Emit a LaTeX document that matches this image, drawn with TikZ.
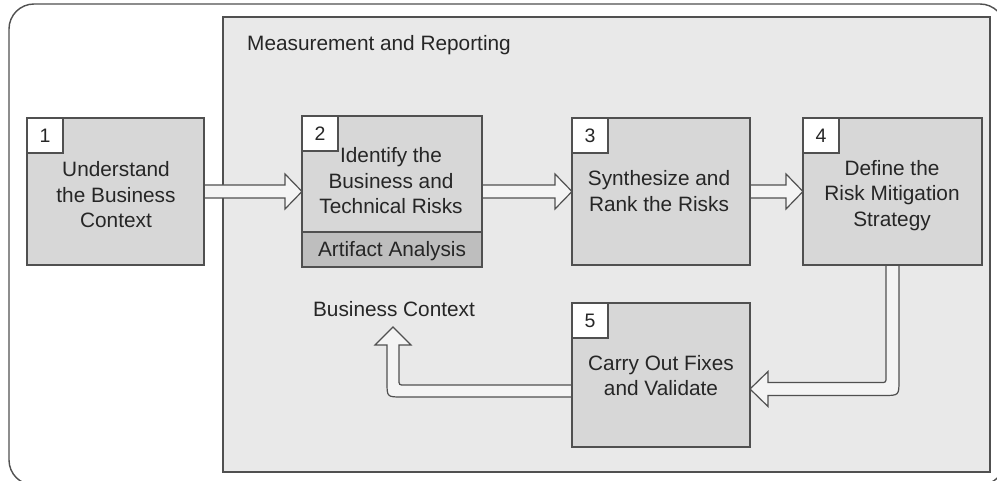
\documentclass[tikz,border=0pt]{standalone}
\usepackage{fontspec}
\setmainfont{Liberation Sans}
\usetikzlibrary{calc}
\definecolor{linec}{HTML}{505050}
\definecolor{panelc}{HTML}{E9E9E9}
\definecolor{boxc}{HTML}{D7D7D7}
\definecolor{barc}{HTML}{BEBEBE}
\definecolor{arrc}{HTML}{F4F4F4}
\definecolor{textc}{HTML}{262626}
\begin{document}
\begin{tikzpicture}[x=1pt,y=-1pt,
  stagebox/.style={draw=linec, fill=boxc, line width=1.3pt, inner sep=0pt, outer sep=0pt},
  numbox/.style={draw=linec, fill=white, line width=1.3pt, inner sep=0pt, outer sep=0pt,
    minimum width=36pt, minimum height=35pt, anchor=north west, text height=14pt, text depth=0pt,
    font=\fontsize{19.5}{24}\selectfont, text=textc},
  lbl/.style={align=center, inner sep=0pt, font=\fontsize{20.8}{25.5}\selectfont, text=textc},
  blockarr/.style={draw=linec, fill=arrc, line width=1.2pt, line join=miter}]
\useasboundingbox (0,0) rectangle (997,481);
\clip (0,0) rectangle (997,481);
% outer frame
\draw[draw=linec, line width=1.4pt, fill=white, rounded corners=25pt] (9,4) rectangle (1005,485);
% panel
\node[draw=linec, fill=panelc, line width=1.5pt, inner sep=0pt, outer sep=0pt,
  minimum width=767pt, minimum height=455pt] (panel) at (606.5,244.5) {};
\node[lbl, anchor=base west] (mr) at (247,51) {Measurement and Reporting};
% boxes (placed first as coordinates for the arrows)
\path (115.5,191.5) node[stagebox, minimum width=177pt, minimum height=147pt] (b1) {};
\path (392,191.5) node[stagebox, minimum width=180pt, minimum height=151pt] (b2) {};
\path (661,191.5) node[stagebox, minimum width=178pt, minimum height=147pt] (b3) {};
\path (892.5,191.5) node[stagebox, minimum width=179pt, minimum height=147pt] (b4) {};
\path (661,375) node[stagebox, minimum width=178pt, minimum height=144pt] (b5) {};
\node[lbl, anchor=base] (bc) at (394,317) {Business Context};
% arrows
\draw[blockarr] ($(b1.east)+(0,-6.5)$) -- ($(b2.west)+(-17,-6.5)$) -- ($(b2.west)+(-17,-17.5)$) -- (b2.west)
  -- ($(b2.west)+(-17,17.5)$) -- ($(b2.west)+(-17,6.5)$) -- ($(b1.east)+(0,6.5)$);
\draw[blockarr] ($(b2.east)+(0,-6.5)$) -- ($(b3.west)+(-17,-6.5)$) -- ($(b3.west)+(-17,-17.5)$) -- (b3.west)
  -- ($(b3.west)+(-17,17.5)$) -- ($(b3.west)+(-17,6.5)$) -- ($(b2.east)+(0,6.5)$);
\draw[blockarr] ($(b3.east)+(0,-6.5)$) -- ($(b4.west)+(-17,-6.5)$) -- ($(b4.west)+(-17,-17.5)$) -- (b4.west)
  -- ($(b4.west)+(-17,17.5)$) -- ($(b4.west)+(-17,6.5)$) -- ($(b3.east)+(0,6.5)$);
\coordinate (tip5) at ($(b5.east)+(0,14)$);
\coordinate (k4) at (b4.south |- tip5);
\draw[blockarr] ($(b4.south)+(-6.5,0)$) -- ($(k4)+(-6.5,-12)$) .. controls ($(k4)+(-6.5,-6.5)$) .. ($(k4)+(-12,-6.5)$)
  -- ($(tip5)+(18,-6.5)$) -- ($(tip5)+(18,-17.5)$) -- (tip5) -- ($(tip5)+(18,17.5)$) -- ($(tip5)+(18,6.5)$)
  -- ($(k4)+(-9,6.5)$) .. controls ($(k4)+(6.5,6.5)$) .. ($(k4)+(6.5,-9)$) -- ($(b4.south)+(6.5,0)$);
\coordinate (src5) at ($(b5.west)+(0,16)$);
\coordinate (tipbc) at ($(bc.base)+(-1,10)$);
\coordinate (k5) at (tipbc |- src5);
\draw[blockarr] ($(src5)+(0,-6)$) -- ($(k5)+(11.5,-6)$) .. controls ($(k5)+(6,-6)$) .. ($(k5)+(6,-11.5)$)
  -- ($(tipbc)+(6,18)$) -- ($(tipbc)+(18,18)$) -- (tipbc) -- ($(tipbc)+(-18,18)$) -- ($(tipbc)+(-6,18)$)
  -- ($(k5)+(-6,-9)$) .. controls ($(k5)+(-6,6)$) .. ($(k5)+(9,6)$) -- ($(src5)+(0,6)$);
% redraw boxes over arrow ends
\path (115.5,191.5) node[stagebox, minimum width=177pt, minimum height=147pt] (b1r) {};
\path (392,191.5) node[stagebox, minimum width=180pt, minimum height=151pt] (b2r) {};
\path (661,191.5) node[stagebox, minimum width=178pt, minimum height=147pt] (b3r) {};
\path (892.5,191.5) node[stagebox, minimum width=179pt, minimum height=147pt] (b4r) {};
\path (661,375) node[stagebox, minimum width=178pt, minimum height=144pt] (b5r) {};
\node[draw=linec, fill=barc, line width=1.3pt, inner sep=0pt, outer sep=0pt, minimum width=180pt,
  minimum height=35pt, anchor=south, text height=14.7pt, text depth=0pt,
  font=\fontsize{20.8}{25.5}\selectfont, text=textc] (art) at (b2r.south) {Artifact Analysis};
% numbers
\node[numbox] (n1) at (b1r.north west) {1};
\node[numbox] (n2) at (b2r.north west) {2};
\node[numbox] (n3) at (b3r.north west) {3};
\node[numbox] (n4) at (b4r.north west) {4};
\node[numbox] (n5) at (b5r.north west) {5};
% texts
\node[lbl] (t1) at (116,195) {Understand\\the Business\\Context};
\node[lbl] (t2) at (391,181) {Identify the\\Business and\\Technical Risks};
\node[lbl] (t3) at (659,191) {Synthesize and\\Rank the Risks};
\node[lbl] (t4) at (892,195.5) {Define the\\Risk Mitigation\\Strategy};
\node[lbl] (t5) at (661,375.5) {Carry Out Fixes\\and Validate};
\end{tikzpicture}
\end{document}
